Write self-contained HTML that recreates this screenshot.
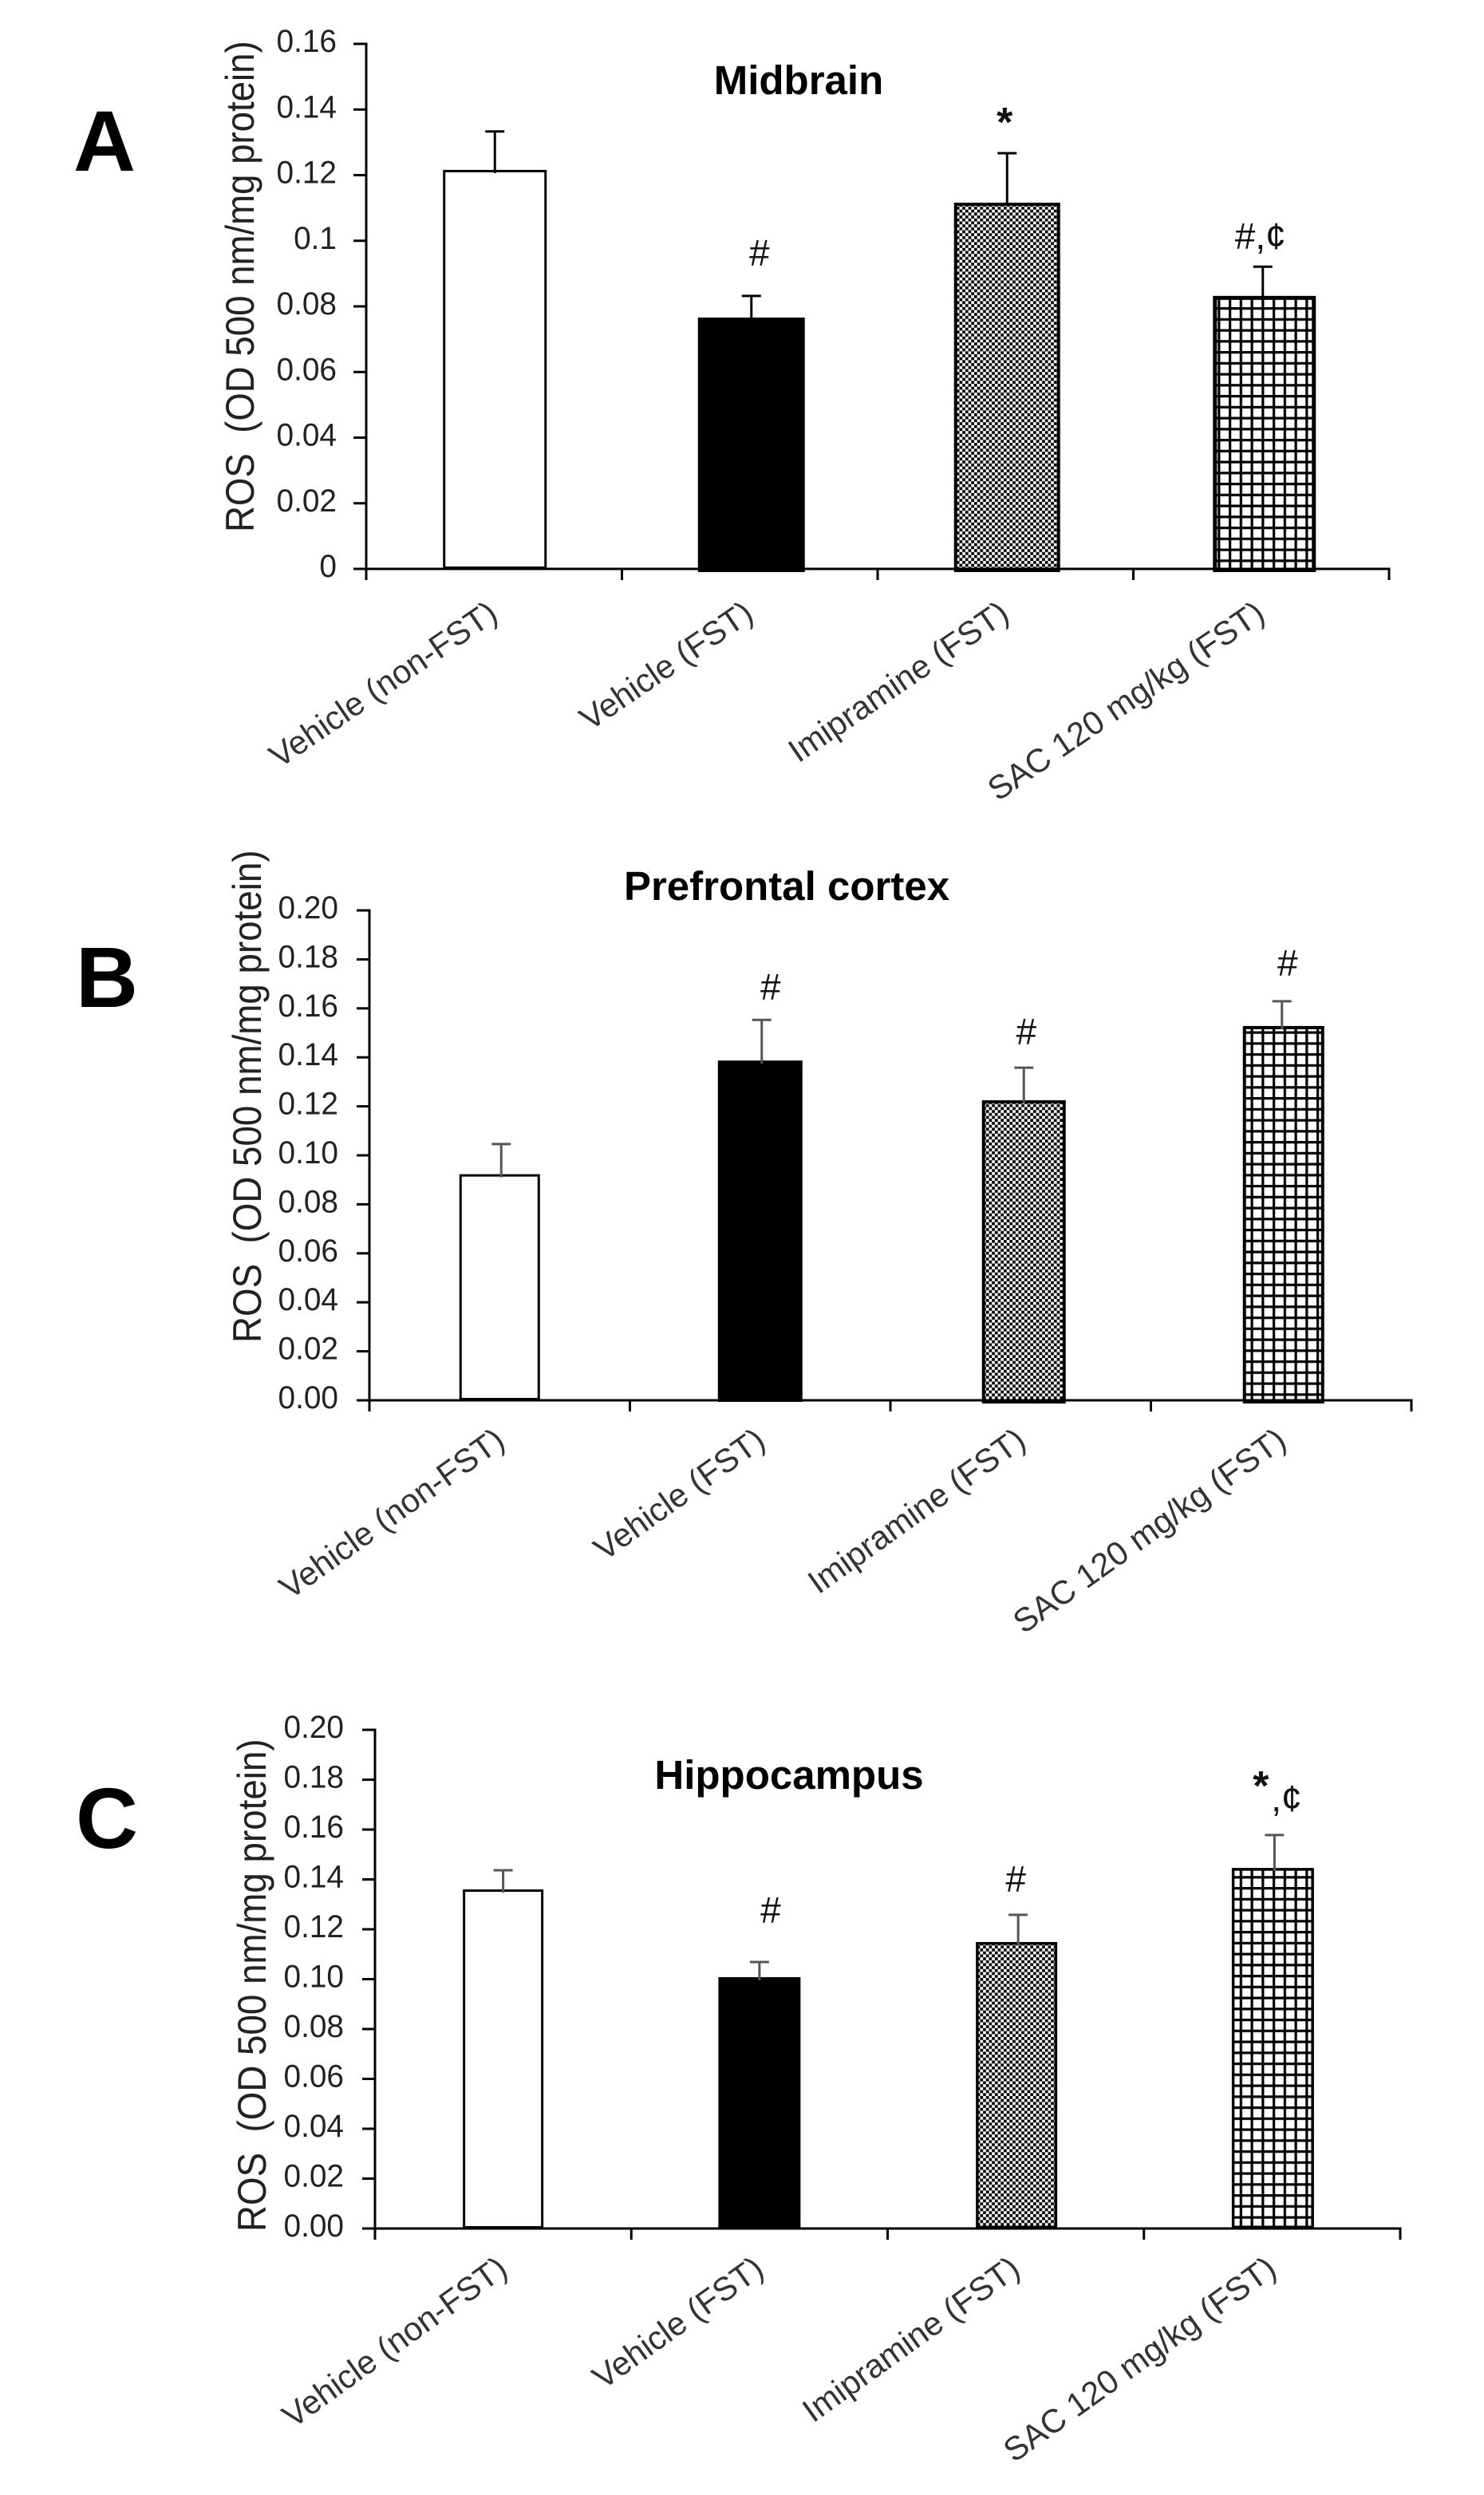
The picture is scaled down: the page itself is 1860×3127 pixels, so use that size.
<!DOCTYPE html>
<html lang="en">
<head>
<meta charset="utf-8">
<title>ROS levels in midbrain, prefrontal cortex and hippocampus</title>
<style>
  html, body { margin: 0; padding: 0; background: #fff; }
  svg { display: block; font-family: "Liberation Sans", Arial, sans-serif; }
</style>
</head>
<body>
<svg id="figure" xmlns="http://www.w3.org/2000/svg" width="1860" height="3127" viewBox="0 0 1860 3127">
  <defs>
    <pattern id="checker" patternUnits="userSpaceOnUse" width="7.4" height="7.4">
      <rect width="7.4" height="7.4" fill="#fff"/>
      <rect width="3.7" height="3.7" fill="#000"/>
      <rect x="3.7" y="3.7" width="3.7" height="3.7" fill="#000"/>
    </pattern>
    <pattern id="grid" patternUnits="userSpaceOnUse" width="13.75" height="13.75">
      <rect width="13.75" height="13.75" fill="#fff"/>
      <rect width="3.2" height="13.75" fill="#000"/>
      <rect width="13.75" height="3.2" fill="#000"/>
    </pattern>
  </defs>
  <rect width="1860" height="3127" fill="#fff"/>

  <g id="panel-midbrain">
    <text x="92" y="214" font-size="108" font-weight="bold" fill="#000">A</text>
    <text x="1001" y="118" font-size="51" font-weight="bold" text-anchor="middle" fill="#000">Midbrain</text>
    <text transform="translate(318,667) rotate(-90) scale(0.912,1)" font-size="50" fill="#222" xml:space="preserve">ROS  (OD 500 nm/mg protein)</text>
  </g>

  <g id="panel-prefrontal">
    <text x="95" y="1262" font-size="108" font-weight="bold" fill="#000">B</text>
    <text x="986" y="1128" font-size="51" font-weight="bold" text-anchor="middle" fill="#000">Prefrontal cortex</text>
    <text transform="translate(327,1683) rotate(-90) scale(0.915,1)" font-size="50" fill="#222" xml:space="preserve">ROS  (OD 500 nm/mg protein)</text>
  </g>

  <g id="panel-hippocampus">
    <text x="95" y="2316" font-size="108" font-weight="bold" fill="#000">C</text>
    <text x="989" y="2242" font-size="51" font-weight="bold" text-anchor="middle" fill="#000">Hippocampus</text>
    <text transform="translate(333,2797) rotate(-90) scale(0.915,1)" font-size="50" fill="#222" xml:space="preserve">ROS  (OD 500 nm/mg protein)</text>
  </g>
</svg>

<script>
// ---- Data ----
const categories = ["Vehicle (non-FST)", "Vehicle (FST)", "Imipramine (FST)", "SAC 120 mg/kg (FST)"];

const midbrainTicks = ["0", "0.02", "0.04", "0.06", "0.08", "0.1", "0.12", "0.14", "0.16"];
const midbrainValues = [0.1216, 0.0766, 0.1116, 0.0832];
const midbrainErrors = [0.0117, 0.0066, 0.0151, 0.0089];
const midbrainSigBars = [1, 2, 3];
const midbrainSigLabels = ["#", "*", "#,¢"];
const midbrainSigLevels = [0.0924, 0.1318, 0.0975];

const prefrontalTicks = ["0.00", "0.02", "0.04", "0.06", "0.08", "0.10", "0.12", "0.14", "0.16", "0.18", "0.20"];
const prefrontalValues = [0.0923, 0.1387, 0.1225, 0.1528];
const prefrontalErrors = [0.0123, 0.0166, 0.0133, 0.0101];
const prefrontalSigBars = [1, 2, 3];
const prefrontalSigLabels = ["#", "#", "#"];
const prefrontalSigLevels = [0.1635, 0.1453, 0.1733];

const hippocampusTicks = ["0.00", "0.02", "0.04", "0.06", "0.08", "0.10", "0.12", "0.14", "0.16", "0.18", "0.20"];
const hippocampusValues = [0.136, 0.1008, 0.1149, 0.1446];
const hippocampusErrors = [0.0077, 0.0061, 0.0109, 0.0132];
const hippocampusSigBars = [1, 2, 3, 3];
const hippocampusSigLabels = ["#", "#", "*", ",¢"];
const hippocampusSigLevels = [0.1226, 0.135, 0.1718, 0.1674];

// ---- Layout of each panel (not data) ----
const barFills = ["#fff", "#000", "url(#checker)", "url(#grid)"];
const panels = [
  { group: "panel-midbrain", left: 459, right: 1741, top: 55, bottom: 713,
    ticks: midbrainTicks, values: midbrainValues, errors: midbrainErrors,
    sigBars: midbrainSigBars, sigLabels: midbrainSigLabels, sigLevels: midbrainSigLevels,
    sigNudge: [12, -1, -1], barWidths: [130, 134, 133, 129], barNudge: [1, 2, 2, 4], errNudge: [1, 2, 2, 2],
    strokes: [3, 3, 4, 5], overhang: [0, 4, 4, 4], errColor: "#000", labelRight: 422,
    labelAngle: -34.3, labelDx: 7, labelDy: 62 },
  { group: "panel-prefrontal", left: 463, right: 1769, top: 1141, bottom: 1755,
    ticks: prefrontalTicks, values: prefrontalValues, errors: prefrontalErrors,
    sigBars: prefrontalSigBars, sigLabels: prefrontalSigLabels, sigLevels: prefrontalSigLevels,
    sigNudge: [13, 7, 8], barWidths: [101, 106, 105, 102], barNudge: [0, 0, 4, 3], errNudge: [2, 2, 4, 1],
    strokes: [3, 3, 4, 4], overhang: [0, 2, 4, 4], errColor: "#555", labelRight: 424,
    labelAngle: -35.6, labelDx: 9, labelDy: 56 },
  { group: "panel-hippocampus", left: 470, right: 1755, top: 2168, bottom: 2793,
    ticks: hippocampusTicks, values: hippocampusValues, errors: hippocampusErrors,
    sigBars: hippocampusSigBars, sigLabels: hippocampusSigLabels, sigLevels: hippocampusSigLevels,
    sigNudge: [14, 0, -14, 18], barWidths: [101, 103, 102, 103], barNudge: [0, 0, 1, 1], errNudge: [0, 0, 3, 3],
    strokes: [3, 3, 3.5, 3.5], overhang: [0, 0, 0, 0], errColor: "#555", labelRight: 431,
    labelAngle: -35.7, labelDx: 8, labelDy: 56 }
];

const SVG_NS = "http://www.w3.org/2000/svg";

function shape(parent, tag, attrs) {
  const el = document.createElementNS(SVG_NS, tag);
  for (const key in attrs) el.setAttribute(key, attrs[key]);
  parent.appendChild(el);
  return el;
}

function yScale(panel, value) {
  const max = Number(panel.ticks[panel.ticks.length - 1]);
  return panel.bottom - (value / max) * (panel.bottom - panel.top);
}

function xEdge(panel, index) {
  return panel.left + index * (panel.right - panel.left) / categories.length;
}

function xCenter(panel, index) {
  return xEdge(panel, index + 0.5);
}

function drawBars(panel, group) {
  panel.values.forEach(function (value, i) {
    const sw = panel.strokes[i];
    const center = xCenter(panel, i) + panel.barNudge[i];
    const width = panel.barWidths[i];
    const top = yScale(panel, value);
    const base = yScale(panel, 0) + panel.overhang[i];
    const bar = shape(group, "rect", {
      x: center - width / 2 + sw / 2,
      y: top + sw / 2,
      width: width - sw,
      height: base - top - sw,
      fill: barFills[i],
      stroke: "#000",
      "stroke-width": sw
    });
    
    

    const errX = xCenter(panel, i) + panel.errNudge[i];
    const errTop = yScale(panel, value + panel.errors[i]);
    const stem = shape(group, "line", {
      x1: errX, x2: errX, y1: errTop, y2: top + 4,
      stroke: panel.errColor, "stroke-width": 3
    });
    
    
    const cap = shape(group, "line", {
      x1: errX - 12, x2: errX + 12, y1: errTop, y2: errTop,
      stroke: panel.errColor, "stroke-width": 3
    });
    
    
  });
}

function drawAxes(panel, group) {
  const yAxis = shape(group, "line", {
    x1: panel.left, x2: panel.left, y1: panel.top - 1.5, y2: panel.bottom + 14,
    stroke: "#000", "stroke-width": 3
  });
  
  
  const xAxis = shape(group, "line", {
    x1: panel.left - 16, x2: panel.right + 1.5, y1: panel.bottom, y2: panel.bottom,
    stroke: "#000", "stroke-width": 3
  });
  
  

  panel.ticks.forEach(function (label) {
    const y = yScale(panel, Number(label));
    const tick = shape(group, "line", {
      x1: panel.left - 16, x2: panel.left, y1: y, y2: y,
      stroke: "#000", "stroke-width": 3
    });
    
    
    const text = shape(group, "text", {
      transform: "translate(" + panel.labelRight + "," + (y + 10) + ") scale(0.97,1)",
      "font-size": 40, "text-anchor": "end", fill: "#222"
    });
    text.textContent = label;
    
    
  });

  for (let i = 1; i <= categories.length; i++) {
    const x = xEdge(panel, i);
    const tick = shape(group, "line", {
      x1: x, x2: x, y1: panel.bottom, y2: panel.bottom + 14,
      stroke: "#000", "stroke-width": 3
    });
    
    
  }

  categories.forEach(function (name, i) {
    const x = xCenter(panel, i) + panel.labelDx;
    const y = panel.bottom + panel.labelDy;
    const text = shape(group, "text", {
      transform: "translate(" + x + "," + y + ") rotate(" + panel.labelAngle + ")",
      "font-size": 41.5, "text-anchor": "end", fill: "#333"
    });
    text.textContent = name;
    
    
  });
}

function drawSignificance(panel, group) {
  panel.sigLabels.forEach(function (label, i) {
    const isStar = label === "*";
    const text = shape(group, "text", {
      x: xCenter(panel, panel.sigBars[i]) + panel.sigNudge[i],
      y: yScale(panel, panel.sigLevels[i]),
      "font-size": isStar ? 52 : 46,
      "font-weight": isStar ? "bold" : "normal",
      "text-anchor": "middle",
      fill: "#111"
    });
    text.textContent = label;
    
    
  });
}

panels.forEach(function (panel) {
  const group = document.getElementById(panel.group);
  drawBars(panel, group);
  drawAxes(panel, group);
  drawSignificance(panel, group);
});
</script>
</body>
</html>
